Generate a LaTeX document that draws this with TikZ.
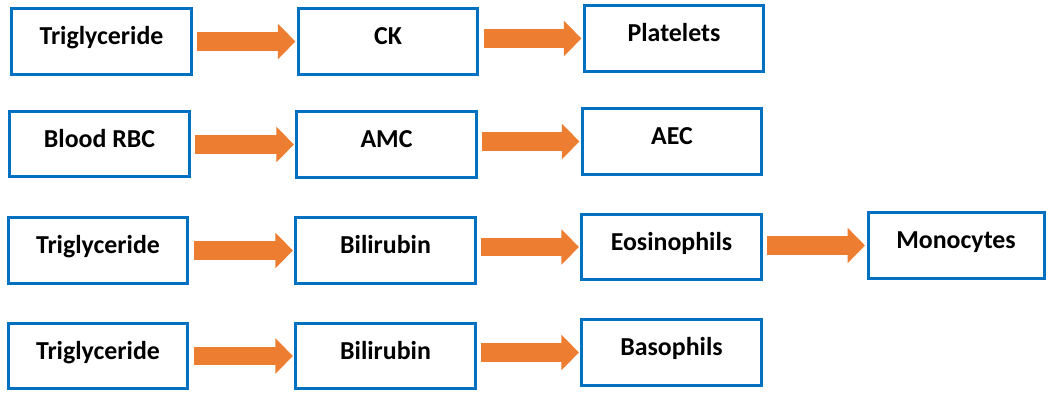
\documentclass[tikz,border=0pt]{standalone}
\usepackage{fontspec}
\setmainfont{Carlito}
\usepackage{xcolor}
\usetikzlibrary{positioning}
\usetikzlibrary{arrows.meta}

\definecolor{BLUE}{RGB}{0, 112, 192}
\definecolor{ORANGE}{RGB}{237, 125, 49}

\begin{document}
\begin{tikzpicture}[
		testbox/.style={draw, color={BLUE!100}, line width={0.075cm}, minimum width={4.48cm}, minimum height={1.64cm}, inner sep=0pt, text=black, font=\fontsize{18.4pt}{22pt}\selectfont\bfseries, text height=11.7pt, text depth=7.3pt},
		flow/.style={-{Triangle[length=12.4pt, width=24.5pt]}, line width={0.4625cm}, color={ORANGE!100}, shorten <={0.1125cm}, shorten >={0.0375cm}}
	]
			\useasboundingbox (0, 0) rectangle (26.425, -10);
			\node[testbox] (trigA) at ( 2.5375000, -1.0375000) {Triglyceride};
			\node[testbox] (ck) at ( 9.7000000, -1.0375000) {CK};
			\node[testbox] (platelets) at (16.8500000, -0.9625000) {Platelets};
			\node[testbox] (rbc) at ( 2.4875000, -3.6000000) {Blood RBC};
			\node[testbox] (amc) at ( 9.6625000, -3.6125000) {AMC};
			\node[testbox] (aec) at (16.8000000, -3.5375000) {AEC};
			\node[testbox] (trigB) at ( 2.4500000, -6.2625000) {Triglyceride};
			\node[testbox] (biliB) at ( 9.6375000, -6.2625000) {Bilirubin};
			\node[testbox] (eosino) at (16.7875000, -6.1750000) {Eosinophils};
			\node[testbox, minimum width={4.4cm}] (mono) at (23.9000000, -6.1375000) {Monocytes};
			\node[testbox] (trigC) at ( 2.4500000, -8.9000000) {Triglyceride};
			\node[testbox] (biliC) at ( 9.6375000, -8.9000000) {Bilirubin};
			\node[testbox] (baso) at (16.7875000, -8.8125000) {Basophils};
			\draw[flow] (trigA.east |- ck.west) to (ck.west);
			\draw[flow] (ck.east |- platelets.west) to (platelets.west);
			\draw[flow] (rbc.east |- amc.west) to (amc.west);
			\draw[flow] (amc.east |- aec.west) to (aec.west);
			\draw[flow] (trigB.east |- biliB.west) to (biliB.west);
			\draw[flow] (biliB.east |- eosino.west) to (eosino.west);
			\draw[flow] (eosino.east |- mono.west) to (mono.west);
			\draw[flow] (trigC.east |- biliC.west) to (biliC.west);
			\draw[flow] (biliC.east |- baso.west) to (baso.west);
		\end{tikzpicture}
\end{document}
